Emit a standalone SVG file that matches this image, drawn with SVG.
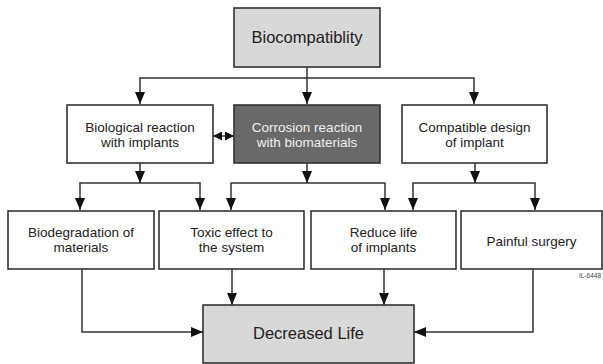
<svg xmlns="http://www.w3.org/2000/svg" width="603" height="364" viewBox="0 0 603 364">
<style>
.box{fill:#fff;stroke:#333;stroke-width:1.6}
.grey{fill:#d8d8d8;stroke:#333;stroke-width:1.6}
.dark{fill:#696969;stroke:#333;stroke-width:1.6}
.t{font-family:"Liberation Sans",Arial,sans-serif;font-size:13.5px;fill:#222;text-anchor:middle}
.tw{fill:#eee}
.big{font-size:16.5px}
.ln{fill:none;stroke:#333;stroke-width:1.5}
</style>
<defs>
<marker id="ah" viewBox="0 0 12 10" refX="12" refY="5" markerWidth="12" markerHeight="10" markerUnits="userSpaceOnUse" orient="auto-start-reverse">
<path d="M0,0 L12,5 L0,10 z" fill="#111"/>
</marker>
<marker id="sm" viewBox="0 0 9 9" refX="9" refY="4.5" markerWidth="9" markerHeight="9" markerUnits="userSpaceOnUse" orient="auto-start-reverse">
<path d="M0,0 L9,4.5 L0,9 z" fill="#111"/>
</marker>
</defs>
<rect width="603" height="364" fill="#fff"/>
<g id="connectors">
<line class="ln" x1="307" y1="67" x2="307" y2="104" marker-end="url(#ah)"/>
<polyline class="ln" points="140,104 140,78 474,78 474,104" marker-start="url(#ah)" marker-end="url(#ah)"/>
<line class="ln" x1="213" y1="136" x2="234" y2="136" marker-start="url(#sm)" marker-end="url(#sm)"/>
<line class="ln" x1="140" y1="163" x2="140" y2="183" marker-end="url(#ah)"/>
<polyline class="ln" points="80,210 80,183 200,183 200,210" marker-start="url(#ah)" marker-end="url(#ah)"/>
<line class="ln" x1="307" y1="163" x2="307" y2="183" marker-end="url(#ah)"/>
<polyline class="ln" points="231,210 231,183 385,183 385,210" marker-start="url(#ah)" marker-end="url(#ah)"/>
<line class="ln" x1="475" y1="163" x2="475" y2="183" marker-end="url(#ah)"/>
<polyline class="ln" points="413,210 413,183 535,183 535,210" marker-start="url(#ah)" marker-end="url(#ah)"/>
<polyline class="ln" points="82,269 82,332 203,332" marker-end="url(#ah)"/>
<line class="ln" x1="232" y1="269" x2="232" y2="305" marker-end="url(#ah)"/>
<line class="ln" x1="384" y1="269" x2="384" y2="305" marker-end="url(#ah)"/>
<polyline class="ln" points="533,269 533,332 414,332" marker-end="url(#ah)"/>
</g>
<g id="biocompatibility">
<rect class="grey" x="234" y="8" width="146" height="59"/>
<text class="t big" x="307" y="43">Biocompatiblity</text>
</g>
<g id="biological">
<rect class="box" x="67" y="105" width="146" height="58"/>
<text class="t" x="140" y="132">Biological reaction</text>
<text class="t" x="140" y="147">with implants</text>
</g>
<g id="corrosion">
<rect class="dark" x="234" y="105" width="146" height="58"/>
<text class="t tw" x="307" y="132">Corrosion reaction</text>
<text class="t tw" x="307" y="147">with biomaterials</text>
</g>
<g id="compatible">
<rect class="box" x="402" y="105" width="145" height="58"/>
<text class="t" x="474.5" y="132">Compatible design</text>
<text class="t" x="474.5" y="147">of implant</text>
</g>
<g id="biodegradation">
<rect class="box" x="8" y="211" width="146" height="58"/>
<text class="t" x="81" y="237">Biodegradation of</text>
<text class="t" x="81" y="252">materials</text>
</g>
<g id="toxic">
<rect class="box" x="159" y="211" width="145" height="58"/>
<text class="t" x="231.5" y="237">Toxic effect to</text>
<text class="t" x="231.5" y="252">the system</text>
</g>
<g id="reduce">
<rect class="box" x="311" y="211" width="145" height="58"/>
<text class="t" x="383.5" y="237">Reduce life</text>
<text class="t" x="383.5" y="252">of implants</text>
</g>
<g id="painful">
<rect class="box" x="461" y="211" width="141" height="58"/>
<text class="t" x="531.5" y="246">Painful surgery</text>
</g>
<g id="decreased">
<rect class="grey" x="203" y="305" width="211" height="58"/>
<text class="t big" x="308.5" y="339">Decreased Life</text>
</g>
<text x="601" y="278" font-family="'Liberation Sans',Arial,sans-serif" font-size="6.5" fill="#444" text-anchor="end">IL-6448</text>
</svg>
